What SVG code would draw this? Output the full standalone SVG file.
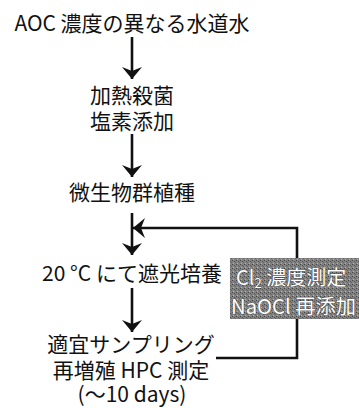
<svg xmlns="http://www.w3.org/2000/svg" width="359" height="408" viewBox="0 0 359 408">
<defs>
<style>
.t{font-family:"Noto Sans CJK JP","Noto Sans",sans-serif;font-size:21px;fill:#111;text-anchor:middle}
.w{font-family:"Noto Sans CJK JP","Noto Sans",sans-serif;font-size:20px;fill:#fff;stroke:#333;stroke-width:0.6px;paint-order:stroke}
.ln{stroke:#111;stroke-width:2.6;fill:none}
</style>
<marker id="ah" viewBox="0 0 12 20" refX="12" refY="10" markerWidth="12" markerHeight="20" markerUnits="userSpaceOnUse" orient="auto">
<path d="M0,0 L12,10 L0,20 L4,10 Z" fill="#111"/>
</marker>
<pattern id="noise" width="4" height="4" patternUnits="userSpaceOnUse">
<rect width="4" height="4" fill="#828282"/>
<rect x="0" y="0" width="1" height="1" fill="#444"/>
<rect x="2" y="1" width="1" height="1" fill="#555"/>
<rect x="1" y="3" width="1" height="1" fill="#b0b0b0"/>
<rect x="3" y="2" width="1" height="1" fill="#666"/>
</pattern>
</defs>
<g id="n1"><text class="t" x="132" y="31">AOC 濃度の異なる水道水</text></g>
<g id="n2"><text class="t" x="132" y="103">加熱殺菌<tspan x="132" dy="26">塩素添加</tspan></text></g>
<g id="n3"><text class="t" x="132" y="200">微生物群植種</text></g>
<g id="n4"><text class="t" x="132" y="281">20 °C にて遮光培養</text></g>
<g id="n5"><text class="t" x="131" y="352">適宜サンプリング<tspan x="131" dy="26">再増殖 HPC 測定</tspan><tspan x="132" dy="24">(〜10 days)</tspan></text></g>
<g id="n6">
<rect x="230" y="258" width="129" height="61" fill="url(#noise)"/>
<text class="w" x="236" y="285">Cl<tspan font-size="13" dy="3">2</tspan><tspan dy="-3"> 濃度測定</tspan></text>
<text class="w" x="231" y="314" textLength="125" lengthAdjust="spacingAndGlyphs">NaOCl 再添加</text>
</g>
<g id="connectors">
<line class="ln" x1="132" y1="37" x2="132" y2="79" marker-end="url(#ah)"/>
<line class="ln" x1="132" y1="134" x2="132" y2="177" marker-end="url(#ah)"/>
<line class="ln" x1="132" y1="213" x2="132" y2="255" marker-end="url(#ah)"/>
<line class="ln" x1="132" y1="288" x2="132" y2="332" marker-end="url(#ah)"/>
<polyline class="ln" points="297,258 297,228 133,228" marker-end="url(#ah)"/>
<polyline class="ln" points="297,319 297,358 216,358"/>
</g>
</svg>
